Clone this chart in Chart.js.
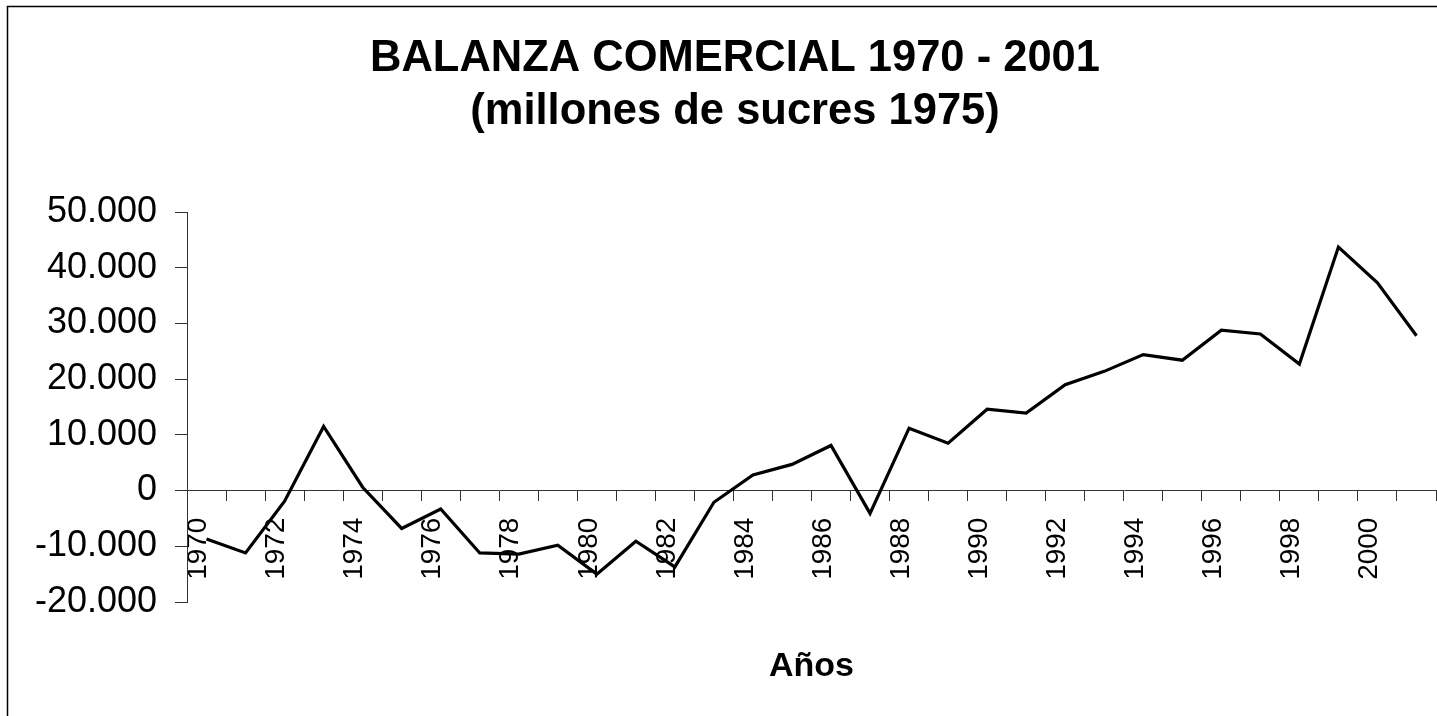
<!DOCTYPE html>
<html>
<head>
<meta charset="utf-8">
<script src="https://cdn.jsdelivr.net/npm/chart.js@4/dist/chart.umd.min.js"></script>
<style>
  html, body { margin: 0; padding: 0; background: #fff; overflow: hidden; }
  #wrap { width: 1437px; height: 716px; position: relative; overflow: hidden; }
  #c { position: absolute; left: 0; top: 0; }
</style>
</head>
<body>
<div id="wrap"><canvas id="c" width="1470" height="716"></canvas></div>
<script>
const years = ["1970","1971","1972","1973","1974","1975","1976","1977","1978","1979",
  "1980","1981","1982","1983","1984","1985","1986","1987","1988","1989",
  "1990","1991","1992","1993","1994","1995","1996","1997","1998","1999","2000","2001"];
const balanza = [-8700,-11200,-1900,11500,600,-6800,-3300,-11200,-11400,-9800,
  -15000,-9100,-13700,-2100,2800,4700,8100,-4100,11200,8500,
  14600,13900,19000,21400,24400,23400,28800,28100,22700,43700,37300,27800];
const shownYearLabels = ["1970","1972","1974","1976","1978","1980","1982","1984","1986","1988","1990","1992","1994","1996","1998","2000"];
const yMin = -20000, yMax = 50000, yStep = 10000;
const titleLines = ["BALANZA COMERCIAL 1970 - 2001", "(millones de sucres 1975)"];
const xTitle = "Años";

function fmt(v) {
  const neg = v < 0;
  let s = Math.abs(Math.round(v)).toString();
  s = s.replace(/\B(?=(\d{3})+(?!\d))/g, ".");
  return (neg ? "-" : "") + s;
}

const frame = {
  id: 'frame',
  afterDraw(chart) {
    const ctx = chart.ctx;
    ctx.save();
    ctx.strokeStyle = '#000';
    ctx.lineWidth = 1.5;
    ctx.strokeRect(7.5, 6.5, 1456, 760);
    ctx.restore();
  }
};

new Chart(document.getElementById('c'), {
  type: 'line',
  data: {
    labels: years,
    datasets: [{
      data: balanza,
      borderColor: '#000',
      borderWidth: 3.2,
      pointRadius: 0,
      tension: 0,
      fill: false,
      clip: false
    }]
  },
  options: {
    responsive: false,
    animation: false,
    layout: { padding: { left: 0, right: 0, top: 0, bottom: 114 } },
    plugins: {
      legend: { display: false },
      tooltip: { enabled: false },
      title: {
        display: true,
        text: titleLines,
        color: '#000',
        font: { family: 'Liberation Sans, Arial, sans-serif', size: 43.5, weight: 'bold', lineHeight: 1.23 },
        padding: { top: 32, bottom: 73 }
      }
    },
    scales: {
      x: {
        position: { y: 0 },
        offset: true,
        afterFit(scale) { scale.paddingLeft = 0; scale.paddingRight = 0; },
        grid: { display: true, offset: true, drawOnChartArea: false, drawTicks: true, tickLength: 10, color: '#333', lineWidth: 1 },
        border: { display: true, color: '#333', width: 1 },
        ticks: {
          autoSkip: false,
          minRotation: 90,
          maxRotation: 90,
          padding: 17,
          labelOffset: -8,
          color: '#000',
          font: { family: 'Liberation Sans, Arial, sans-serif', size: 28 },
          callback: function(value, index) {
            const lab = years[index];
            return shownYearLabels.includes(lab) ? lab : '';
          }
        },
        title: {
          display: true,
          text: xTitle,
          color: '#000',
          font: { family: 'Liberation Sans, Arial, sans-serif', size: 34, weight: 'bold', lineHeight: 1.2 },
          padding: { top: 49, bottom: 0 }
        }
      },
      y: {
        min: yMin,
        max: yMax,
        afterFit(scale) { scale.width = 187; },
        grid: { display: true, drawOnChartArea: false, drawTicks: true, tickLength: 12, color: '#333', lineWidth: 1 },
        border: { display: true, color: '#333', width: 1 },
        ticks: {
          stepSize: yStep,
          padding: 18,
          color: '#000',
          font: { family: 'Liberation Sans, Arial, sans-serif', size: 36 },
          callback: function(v) { return fmt(v); }
        }
      },
      spacer: {
        type: 'linear',
        position: 'right',
        display: true,
        afterFit(scale) { scale.width = 34; },
        grid: { display: false, drawTicks: false },
        border: { display: false },
        ticks: { display: false }
      }
    }
  },
  plugins: [frame]
});
</script>
</body>
</html>
